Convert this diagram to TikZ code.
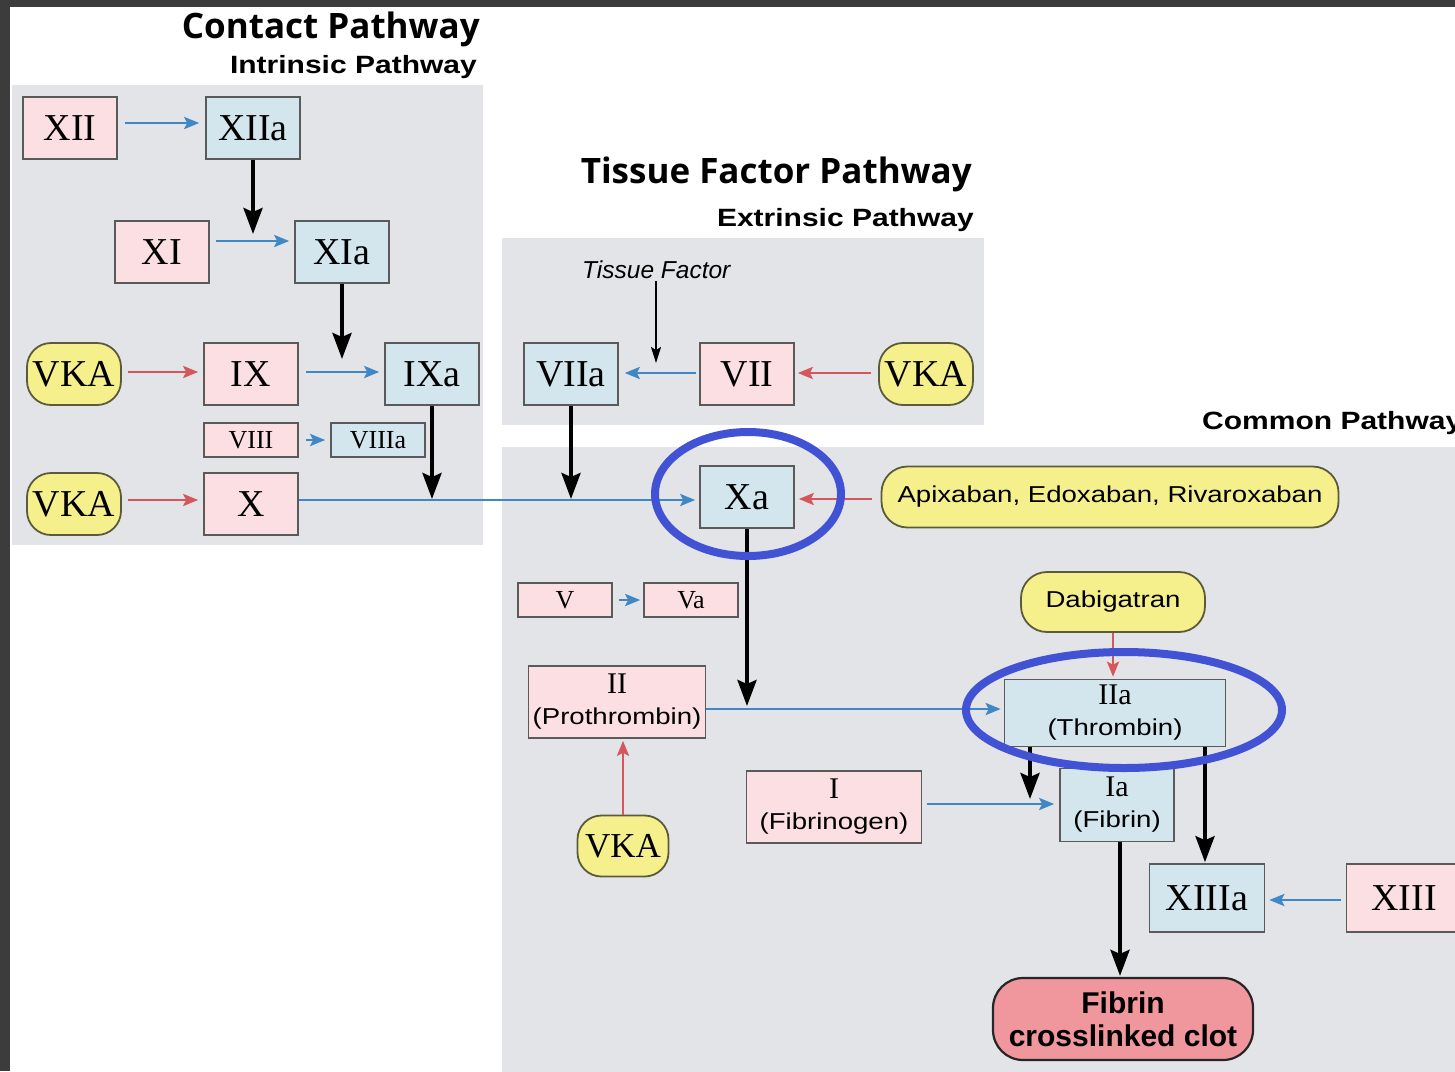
\documentclass[tikz,border=0pt]{standalone}
\usepackage{fontspec}
\setmainfont{Liberation Serif}
\newfontfamily\wsans[FakeStretch=1.2]{Liberation Sans}
\newfontfamily\isans{Liberation Sans}
\newfontfamily\tsans{Open Sans}
\usetikzlibrary{arrows.meta}
\definecolor{framec}{HTML}{3C3C3C}
\definecolor{panelc}{HTML}{E2E4E7}
\definecolor{pinkc}{HTML}{FCDFE2}
\definecolor{bluec}{HTML}{D3E6EE}
\definecolor{yellowc}{HTML}{F6F08C}
\definecolor{clotc}{HTML}{EF979C}
\definecolor{bordc}{HTML}{5A5A5A}
\definecolor{ylinec}{HTML}{5C5A3C}
\definecolor{bluearr}{HTML}{3F87C5}
\definecolor{redarr}{HTML}{D5575D}
\definecolor{ringc}{HTML}{4152D4}
\newcommand\myBig{\fontsize{38}{40}\selectfont}
\newcommand\mySmall{\fontsize{26}{28}\selectfont}
\newcommand\myMid{\fontsize{30}{31}\selectfont}
\newcommand\myLab{\wsans\fontsize{23}{31}\selectfont}
\tikzset{
  pbox/.style={draw=bordc, fill=pinkc, line width=1.6pt, minimum width=94pt,
    minimum height=62pt, inner sep=0pt, font=\myBig},
  bbox/.style={pbox, fill=bluec},
  smallbox/.style={minimum height=34pt, font=\mySmall},
  twoline/.style={align=center, font=\myMid},
  vka/.style={draw=ylinec, fill=yellowc, line width=1.8pt, rounded corners=24pt,
    minimum width=94pt, minimum height=62pt, inner sep=0pt, font=\myBig},
  drug/.style={draw=ylinec, fill=yellowc, line width=1.8pt, rounded corners=26pt,
    inner sep=0pt, font=\wsans\fontsize{23}{25}\selectfont},
  clotbox/.style={draw=black!85, fill=clotc, line width=2.2pt, rounded corners=30pt,
    inner sep=0pt, align=center, font=\isans\bfseries\fontsize{30}{33}\selectfont},
  barr/.style={draw=bluearr, line width=2.8pt, -{Stealth[length=15pt,width=12pt,inset=3pt]}},
  rarr/.style={draw=redarr, line width=2.8pt, -{Stealth[length=15pt,width=12pt,inset=3pt]}},
  karr/.style={draw=black, line width=4pt, -{Stealth[length=26pt,width=19pt,inset=4pt]}},
  tfarr/.style={draw=black, line width=1.8pt, -{Stealth[length=16pt,width=10pt,inset=3pt]}},
  ring/.style={draw=ringc, line width=8pt},
  bigtitle/.style={font=\tsans\bfseries\fontsize{35}{37}\selectfont, inner sep=0pt, anchor=base east},
  subtitle/.style={font=\wsans\bfseries\fontsize{25}{27}\selectfont, inner sep=0pt, anchor=base east}
}
\begin{document}
\begin{tikzpicture}[x=1pt,y=-1pt]
\useasboundingbox (0,0) rectangle (1455,1071);
\clip (0,0) rectangle (1455,1071);
\fill[white] (0,0) rectangle (1455,1071);
% panels
\fill[panelc] (12,85) rectangle (483,545);
\fill[panelc] (502,238) rectangle (984,425);
\fill[panelc] (502,447) rectangle (1460,1075);
% frame
\fill[framec] (0,0) rectangle (1455,7);
\fill[framec] (0,0) rectangle (10,1071);
% titles
\node[bigtitle] (t1) at (480,38) {Contact Pathway};
\node[subtitle] (t2) at (477,73) {Intrinsic Pathway};
\node[bigtitle] (t3) at (972,183) {Tissue Factor Pathway};
\node[subtitle] (t4) at (974,226) {Extrinsic Pathway};
\node[subtitle, anchor=base west] (t5) at (1202,429) {Common Pathway};
% contact pathway
\node[pbox] (xii) at (70,128) {XII};
\node[bbox] (xiia) at (253,128) {XIIa};
\node[pbox] (xi) at (162,252) {XI};
\node[bbox] (xia) at (342,252) {XIa};
\node[vka] (vka1) at (74,374) {VKA};
\node[pbox] (ix) at (251,374) {IX};
\node[bbox] (ixa) at (432,374) {IXa};
\node[pbox, smallbox] (viii) at (251,440) {VIII};
\node[bbox, smallbox] (viiia) at (378,440) {VIIIa};
\node[vka] (vka2) at (74,504) {VKA};
\node[pbox] (x) at (251,504) {X};
% tissue factor pathway
\node[font=\isans\itshape\fontsize{24.5}{26}\selectfont, inner sep=3pt, anchor=base west] (tf) at (579,278) {Tissue Factor};
\node[bbox] (viia) at (571,374) {VIIa};
\node[pbox] (vii) at (747,374) {VII};
\node[vka] (vka3) at (926,374) {VKA};
% common pathway
\node[bbox] (xa) at (747,497) {Xa};
\node[drug, minimum width=457pt, minimum height=61pt] (apix) at (1110,497) {Apixaban, Edoxaban, Rivaroxaban};
\node[pbox, smallbox] (v) at (565,600) {V};
\node[pbox, smallbox] (va) at (691,600) {Va};
\node[drug, minimum width=184pt, minimum height=60pt] (dabi) at (1113,602) {Dabigatran};
\node[pbox, twoline, minimum width=177pt, minimum height=72pt] (ii) at (617,702) {II\\{\myLab (Prothrombin)}};
\node[bbox, twoline, minimum width=221pt, minimum height=67pt] (iia) at (1115,713) {IIa\\{\myLab (Thrombin)}};
\node[vka, minimum width=91pt, minimum height=61pt, font=\fontsize{35}{37}\selectfont] (vka4) at (623,846) {VKA};
\node[pbox, twoline, minimum width=175pt, minimum height=72pt] (i) at (834,807) {I\\{\myLab (Fibrinogen)}};
\node[bbox, twoline, minimum width=114pt, minimum height=73pt] (ia) at (1117,805) {Ia\\{\myLab (Fibrin)}};
\node[bbox, minimum width=115pt, minimum height=68pt] (xiiia) at (1207,898) {XIIIa};
\node[pbox, minimum width=115pt, minimum height=68pt] (xiii) at (1404,898) {XIII};
\node[clotbox, minimum width=260pt, minimum height=82pt] (clot) at (1123,1019) {Fibrin\\crosslinked clot};
% junction coordinates
\coordinate (c1) at (253,241);
\coordinate (c2) at (342,372);
\coordinate (c3) at (432,500);
\coordinate (c4) at (571,500);
\coordinate (c5) at (656,373);
\coordinate (c6) at (747,709);
\coordinate (c7) at (1030,804);
% contact connectors
\draw[barr, shorten <=7pt, shorten >=6pt] ([yshift=5pt]xii.east) -- ([yshift=5pt]xiia.west);
\draw[karr, shorten >=7pt] (xiia.south) -- (c1);
\draw[barr, shorten <=6pt, shorten >=5pt] ([yshift=11pt]xi.east) -- ([yshift=11pt]xia.west);
\draw[karr, shorten >=13pt] (xia.south) -- (c2);
\draw[rarr, shorten <=6pt, shorten >=5pt] ([yshift=2pt]vka1.east) -- ([yshift=2pt]ix.west);
\draw[barr, shorten <=7pt, shorten >=5pt] ([yshift=2pt]ix.east) -- ([yshift=2pt]ixa.west);
\draw[barr, shorten <=7pt, shorten >=5pt] (viii.east) -- (viiia.west);
\draw[karr, shorten >=1pt] (ixa.south) -- (c3);
\draw[rarr, shorten <=6pt, shorten >=5pt] ([yshift=4pt]vka2.east) -- ([yshift=4pt]x.west);
\draw[barr, shorten >=4pt] ([yshift=4pt]x.east) -- ([yshift=-3pt]xa.west);
% tissue factor connectors
\draw[karr, shorten >=1pt] (viia.south) -- (c4);
\draw[tfarr, shorten >=10pt] (tf.south -| c5) -- (c5);
\draw[barr, shorten <=3pt, shorten >=6pt] ([yshift=1pt]vii.west) -- ([yshift=1pt]viia.east);
\draw[rarr, shorten <=7pt, shorten >=3pt] ([yshift=1pt]vka3.west) -- ([yshift=1pt]vii.east);
% common connectors
\draw[rarr, shorten <=9pt, shorten >=4pt] ([yshift=-2pt]apix.west) -- ([yshift=-2pt]xa.east);
\draw[karr, shorten >=3pt] (xa.south) -- (c6);
\draw[barr, shorten <=6pt, shorten >=3pt] (v.east) -- (va.west);
\draw[barr, shorten >=3pt] ([yshift=-7pt]ii.east) -- ([yshift=4pt]iia.west);
\draw[rarr, shorten >=2pt] (dabi.south) -- (dabi.south |- iia.north);
\draw[rarr, shorten >=2pt] (vka4.north) -- (vka4.north |- ii.south);
\draw[karr, shorten >=5pt] (iia.south -| c7) -- (c7);
\draw[barr, shorten <=5pt, shorten >=5pt] ([yshift=3pt]i.east) -- ([yshift=1pt]ia.west);
\draw[karr, shorten >=1pt] ([xshift=90pt]iia.south) -- ([xshift=90pt]iia.south |- xiiia.north);
\draw[barr, shorten <=5pt, shorten >=4pt] ([yshift=-2pt]xiii.west) -- ([yshift=-2pt]xiiia.east);
\draw[karr, shorten >=1pt] ([xshift=3pt]ia.south) -- ([xshift=3pt]ia.south |- clot.north);
% highlight rings
\draw[ring] (748,494) ellipse [x radius=93pt, y radius=62pt];
\draw[ring] (1124,710) ellipse [x radius=158pt, y radius=58pt];
\end{tikzpicture}
\end{document}
